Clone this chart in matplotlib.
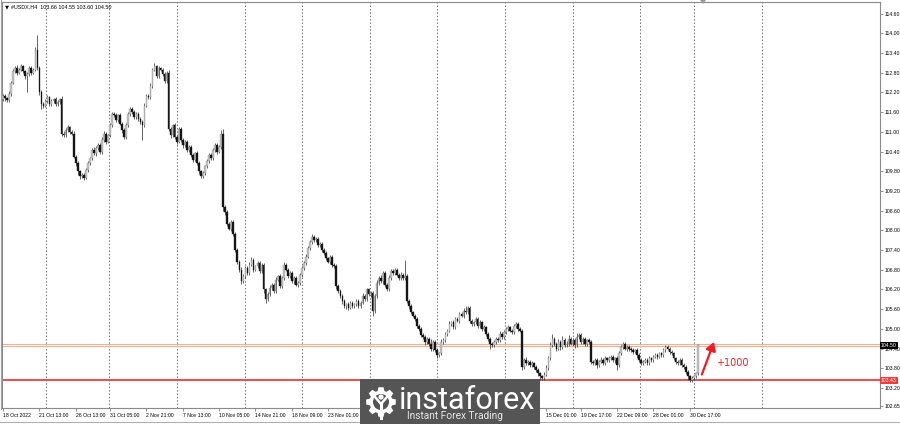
import numpy as np
import matplotlib.pyplot as plt
from matplotlib.patches import Rectangle, Polygon, Circle
from matplotlib.transforms import Affine2D

# H4 candles, one row = 10 bars (closes), open = previous close
first_open = 112.00
closes = np.array("""
112.10 112.02 111.96 112.15 112.50 112.85 112.95 112.80 112.90 113.00
112.85 112.70 112.75 112.95 112.80 112.90 113.50 112.95 112.20 111.85
111.80 111.95 112.05 111.85 111.95 112.00 111.85 111.90 112.00 110.95
110.90 111.05 111.15 111.00 110.95 110.25 110.05 109.80 109.65 109.70
109.60 109.85 110.05 110.20 110.45 110.35 110.50 110.60 110.40 110.75
110.95 110.70 110.90 111.20 111.55 111.50 111.35 111.50 111.25 111.05
110.85 111.20 111.55 111.70 111.60 111.45 111.55 111.40 111.30 111.20
111.80 112.10 112.05 112.40 112.90 113.00 112.70 112.95 112.90 112.75
112.55 112.80 111.10 110.90 111.20 110.85 110.70 111.10 110.75 110.60
110.70 110.45 110.55 110.30 110.15 110.35 110.05 109.80 109.65 109.75
109.95 110.10 110.30 110.20 110.45 110.60 110.40 110.55 110.95 108.70
108.55 108.20 108.05 108.25 107.90 107.40 107.05 106.80 106.45 106.60
106.85 106.70 106.95 107.10 106.80 106.90 107.00 106.75 106.95 106.20
105.90 106.05 106.25 106.35 106.15 106.50 106.60 106.30 106.55 106.95
106.80 106.60 106.70 106.45 106.55 106.35 106.40 106.65 106.85 107.00
107.20 107.45 107.65 107.80 107.70 107.75 107.55 107.60 107.40 107.30
107.15 107.05 107.20 106.95 106.90 106.30 106.15 106.00 105.85 105.70
105.75 105.65 105.80 105.70 105.75 105.85 105.70 105.80 106.00 105.90
106.20 106.05 106.10 105.55 106.00 106.40 106.55 106.45 106.70 106.35
106.20 106.55 106.75 106.70 106.80 106.65 106.55 106.65 106.55 106.60
105.85 105.70 105.50 105.40 105.30 105.10 105.00 104.80 104.75 104.60
104.70 104.55 104.40 104.60 104.35 104.20 104.25 104.60 104.65 104.85
104.95 105.15 105.20 105.05 105.30 105.25 105.45 105.40 105.55 105.50
105.65 105.25 105.15 105.20 105.30 105.10 105.20 105.00 105.05 104.85
104.70 104.55 104.50 104.60 104.70 104.65 104.85 104.75 104.90 105.00
105.05 104.95 104.90 105.10 105.15 105.00 104.95 103.85 104.05 103.95
104.00 103.90 103.95 103.85 103.75 103.65 103.55 103.50 103.60 103.80
104.10 104.50 104.70 104.55 104.40 104.60 104.45 104.65 104.50 104.55
104.70 104.55 104.65 104.50 104.75 104.80 104.60 104.70 104.55 104.65
104.60 104.00 103.95 104.05 103.90 104.00 104.05 103.95 104.10 104.05
104.10 104.15 104.05 104.10 103.90 104.25 104.45 104.55 104.40 104.45
104.40 104.35 104.30 104.35 104.20 104.05 103.95 104.00 104.05 103.95
104.10 104.05 104.15 104.20 104.15 104.25 104.20 104.35 104.45 104.40
104.30 104.25 104.10 104.00 103.95 104.05 103.90 103.85 103.70 103.55
103.45 103.50 103.55 103.66 104.50
""".split(), float)

# upper / lower shadow length, in hundredths
wick_up = np.array("""
5 4 3 8 6 8 6 10 5 6
5 4 8 6 5 4 10 45 6 8
6 5 6 4 5 4 5 6 4 8
8 6 5 4 6 8 5 6 4 5
6 5 6 5 5 8 6 6 5 8
8 6 5 8 6 5 6 5 6 5
6 8 6 6 5 6 5 5 6 5
8 5 6 8 6 10 5 6 4 5
6 5 8 6 5 6 5 5 6 5
5 6 5 6 5 5 6 5 4 5
5 6 5 6 5 6 5 6 10 15
6 8 5 8 6 5 6 5 8 6
8 5 8 10 6 5 8 6 5 6
5 6 8 6 5 8 5 6 5 8
6 5 6 5 5 6 5 6 5 6
8 6 5 8 6 5 6 5 6 5
6 5 6 5 5 8 6 5 5 6
5 6 5 6 5 6 5 6 8 5
6 5 6 5 6 8 6 8 5 6
6 8 6 8 6 5 6 8 6 50
6 5 6 5 6 5 6 5 6 5
6 5 15 6 5 6 5 8 6 6
6 8 5 8 6 5 6 5 8 15
6 5 6 5 6 5 6 5 6 5
5 6 5 6 5 6 8 5 6 5
6 5 6 5 6 5 6 5 6 8
6 5 6 5 5 6 5 6 8 10
8 10 15 6 5 8 6 12 6 8
10 6 8 6 12 8 6 5 6 5
6 5 6 5 6 5 8 5 6 5
6 5 6 5 6 8 6 5 6 5
6 5 6 5 6 5 6 5 6 5
6 5 6 5 6 5 6 8 6 5
6 5 6 5 6 5 6 5 6 5
5 6 5 4 5
""".split(), float) / 100

wick_dn = np.array("""
6 8 6 5 6 5 5 6 5 5
6 8 50 5 6 5 5 6 8 15
6 5 6 5 5 6 5 6 5 8
6 5 6 5 5 6 8 10 8 6
8 5 6 5 6 5 8 5 8 6
6 8 5 6 5 6 5 6 5 8
8 6 5 6 5 6 5 6 5 45
6 5 6 5 6 5 6 5 6 5
6 5 8 10 6 8 6 5 6 8
5 6 5 6 8 5 6 8 6 5
6 5 6 5 6 5 6 5 6 10
8 6 5 6 8 6 8 6 8 6
6 5 6 5 6 5 6 5 6 10
10 6 5 6 5 6 5 6 5 6
5 6 5 6 8 5 6 5 6 5
6 5 6 5 6 5 6 5 6 5
6 5 8 6 5 8 6 6 8 6
8 6 5 6 5 6 5 6 5 6
6 5 8 17 6 5 6 5 8 6
6 5 6 5 6 5 6 5 6 5
6 8 6 5 6 8 6 5 6 8
6 8 6 8 6 10 6 5 6 5
6 5 6 5 6 5 6 5 6 5
5 8 6 5 6 8 6 5 6 8
8 15 6 5 6 5 6 5 6 5
6 5 6 5 6 5 6 10 8 6
6 5 6 8 6 8 10 7 6 5
6 5 6 8 6 5 8 6 5 6
6 5 6 8 6 5 6 5 6 8
6 8 6 5 8 6 5 6 5 6
6 5 6 8 15 6 5 6 5 6
6 5 6 5 8 6 5 6 5 6
6 5 6 5 6 5 6 5 6 5
6 5 6 8 6 5 6 8 6 12
8 6 5 6 6
""".split(), float) / 100

week_starts = [21.1, 52.5, 86.1, 119.8, 148.0, 181.7, 214.9, 248.5, 282.2, 315.3, 342.1, 375.7]
date_ticks = [0, 18, 36, 53, 71, 89, 107, 125, 143, 161, 269, 286, 304, 322, 340]
date_labels = ["18 Oct 2022", "21 Oct 13:00", "26 Oct 13:00", "31 Oct 05:00", "2 Nov 21:00",
               "7 Nov 13:00", "10 Nov 05:00", "14 Nov 21:00", "18 Nov 09:00", "23 Nov 01:00",
               "15 Dec 01:00", "19 Dec 17:00", "22 Dec 09:00", "28 Dec 01:00", "30 Dec 17:00"]
price_ticks = [102.65, 103.20, 103.80, 104.40, 105.00, 105.60, 106.20, 106.80, 107.40, 108.00,
               108.60, 109.20, 109.80, 110.40, 111.00, 111.60, 112.20, 112.80, 113.40, 114.00, 114.60]
bid = 104.50
support = 103.43

opens = np.r_[first_open, closes[:-1]]
highs = np.maximum(opens, closes) + wick_up
lows = np.minimum(opens, closes) - wick_dn
x = np.arange(len(closes))
up = closes >= opens

plt.rcParams['font.family'] = ['Liberation Sans', 'DejaVu Sans']

fig = plt.figure(figsize=(9, 4.24), dpi=100)
ax = fig.add_axes([2 / 900, 16 / 424, 878 / 900, 406 / 424])
pix = Affine2D().scale(1 / 900, -1 / 424).translate(0, 1) + fig.transFigure

ax.set_xlim(-0.5, 434.2)
ax.set_ylim(102.59, 114.956)

for w in week_starts:
    ax.axvline(w, color='#707070', lw=0.7, ls=(0, (1.5, 2)), zorder=1)

ax.axhline(bid + 0.03, color='#f2b08f', lw=0.8, zorder=2)
ax.axhline(bid - 0.035, color='#f2b08f', lw=0.8, zorder=2)
ax.axhline(support, color='#f03c3c', lw=1.3, zorder=2)

ax.vlines(x, lows, highs, color='#3a3a3a', lw=0.55, zorder=3)
body_h = np.maximum(np.abs(closes - opens), 0.015)
ax.bar(x[up], body_h[up], bottom=np.minimum(opens, closes)[up], width=0.8,
       color='#c4c4c4', edgecolor='#888888', linewidth=0.25, zorder=4)
ax.bar(x[~up], body_h[~up], bottom=np.minimum(opens, closes)[~up], width=0.8,
       color='#151515', edgecolor='#151515', linewidth=0.25, zorder=4)

# axes / ticks
ax.yaxis.tick_right()
ax.set_yticks(price_ticks)
ax.set_yticklabels(['%.2f' % p for p in price_ticks])
ax.tick_params(axis='y', length=2, width=0.5, pad=1, labelsize=3.7, color='#666666')
ax.set_xticks(date_ticks)
ax.set_xticklabels(date_labels)
ax.tick_params(axis='x', length=2, width=0.5, pad=1.5, labelsize=3.7, color='#666666')
for lbl in ax.get_xticklabels():
    lbl.set_ha('left')
for s in ax.spines.values():
    s.set_color('#8a8a8a')
    s.set_linewidth(0.8)

# price tags on the scale
ax.text(1.001, bid, '104.50', transform=ax.get_yaxis_transform(), fontsize=3.7, color='white',
        va='center', ha='left', bbox=dict(boxstyle='square,pad=0.25', fc='black', ec='none'), zorder=6)
ax.text(1.001, support, '103.43', transform=ax.get_yaxis_transform(), fontsize=3.7, color='white',
        va='center', ha='left', bbox=dict(boxstyle='square,pad=0.25', fc='#f03c3c', ec='none'), zorder=6)

# header
fig.text(5, 7, '\u25bc', transform=pix, fontsize=3.8, family='DejaVu Sans', va='center')
fig.text(11, 7, '#USDX,H4  103.66 104.55 103.60 104.50', transform=pix, fontsize=3.9, va='center')
fig.patches.append(Polygon([(700, 0), (706, 0), (703, 4)], closed=True, transform=pix,
                           fc='#9a9a9a', ec='none'))

# arrow and target
ax.annotate('', xy=(352.5, 104.68), xytext=(345.5, 103.53),
            arrowprops=dict(arrowstyle='-|>,head_length=0.5,head_width=0.3', color='#ee1c25', lw=1.6),
            zorder=7)
ax.text(353.5, 103.97, '+1000', color='#ee1c25', fontsize=6.9, family='DejaVu Sans', va='center', ha='left')

# logo
fig.patches.append(Rectangle((360, 379), 180, 45, transform=pix, fc='#555555', ec='none', zorder=10))
cx, cy = 381, 402
pts = []
for k in range(8):
    a0 = 2 * np.pi * k / 8
    for da, r in [(-0.30, 11.5), (-0.17, 15), (0.17, 15), (0.30, 11.5)]:
        pts.append((cx + r * np.sin(a0 + da), cy - r * np.cos(a0 + da)))
fig.patches.append(Polygon(pts, closed=True, transform=pix, fc='white', ec='none', zorder=11))
fig.patches.append(Circle((cx, cy), 8, transform=pix, fc='#555555', ec='none', zorder=12))
fig.patches.append(Circle((cx, cy - 5), 2.6, transform=pix, fc='white', ec='none', zorder=13))
fig.lines.append(plt.Line2D([cx - 6, cx, cx + 6], [cy - 5, cy + 2, cy - 5], transform=pix,
                            color='white', lw=1.8, zorder=13))
fig.lines.append(plt.Line2D([cx, cx], [cy + 2, cy + 16], transform=pix, color='white', lw=2.2, zorder=13))
fig.text(399, 409, 'instaforex', transform=pix, fontsize=22, family='Roboto',
         color='white', va='baseline', zorder=14)
fig.text(407, 419, 'Instant Forex Trading', transform=pix, fontsize=7.3, family='Roboto',
         color='#e6e6e6', va='baseline', zorder=14)

# bottom window strip
fig.lines.append(plt.Line2D([0, 900], [421.5, 421.5], transform=pix, color='#b0b0b0', lw=0.8))
fig.lines.append(plt.Line2D([0.5, 0.5], [0, 409], transform=pix, color='#a0a0a0', lw=0.8))

fig.savefig('out.png', dpi=100)
